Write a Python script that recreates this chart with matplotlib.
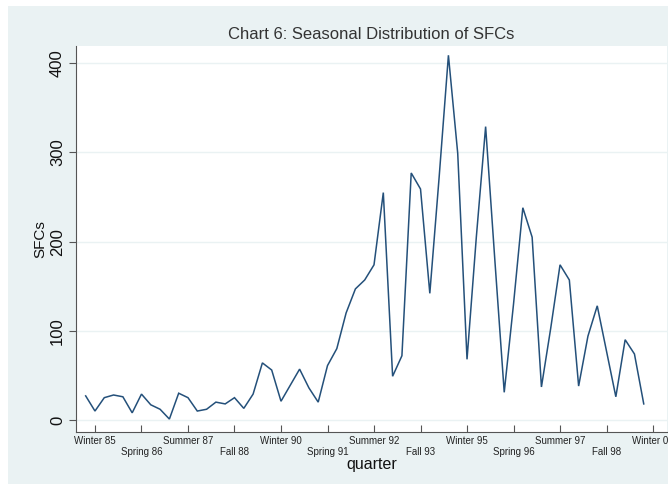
import matplotlib
matplotlib.use("Agg")
import matplotlib.pyplot as plt
from matplotlib.patches import Rectangle

plt.rcParams['font.family'] = ['Liberation Sans', 'DejaVu Sans']

# quarterly categories: Fall 84 .. Fall 99
seasons = ["Winter", "Spring", "Summer", "Fall"]
quarters = ["Fall 84"]
for yr in range(85, 100):
    for s in seasons:
        quarters.append(f"{s} {yr:02d}")
quarters = quarters[:61]

sfcs = [27, 10, 25, 28, 26, 8, 29, 17, 12, 1,
        30, 25, 10, 12, 20, 18, 25, 13, 29, 64,
        56, 21, 39, 57, 36, 20, 61, 80, 120, 147,
        157, 174, 255, 49, 72, 277, 259, 142, 272, 409,
        299, 68, 205, 329, 178, 31, 130, 238, 205, 37,
        103, 174, 157, 38, 94, 128, 77, 26, 90, 74,
        18]

tick_labels = ["Winter 85", "Spring 86", "Summer 87", "Fall 88", "Winter 90",
               "Spring 91", "Summer 92", "Fall 93", "Winter 95", "Spring 96",
               "Summer 97", "Fall 98", "Winter 00"]
y_ticks = [0, 100, 200, 300, 400]

all_q = quarters + ["Winter 00"]
x = list(range(len(sfcs)))
tick_pos = [all_q.index(t) for t in tick_labels]

W, H = 668, 490
fig = plt.figure(figsize=(W / 100, H / 100), dpi=100, facecolor="white")
bg = "#EAF2F3"
rect = Rectangle((8 / W, 6 / H), 1, 478 / H, transform=fig.transFigure,
                 facecolor=bg, edgecolor="none", zorder=-10)
fig.add_artist(rect)

ax = fig.add_axes([76 / W, 58 / H, (667 - 76) / W, (432 - 46) / H])
ax.set_zorder(5)
ax.set_facecolor("white")
ax.plot(x, sfcs, color="#24507a", lw=1.1, solid_joinstyle="miter")

ax.set_xlim(-1.04, 62.5)
ax.set_ylim(-13.5, 419.4)

for s in ["top", "right"]:
    ax.spines[s].set_visible(False)
for s in ["left", "bottom"]:
    ax.spines[s].set_color("#555555")
    ax.spines[s].set_linewidth(0.8)

ax.set_yticks(y_ticks)
ax.set_yticklabels([str(v) for v in y_ticks], rotation=90, va="center", fontsize=12, color="#111111")
ax.tick_params(axis="y", direction="out", length=5, width=0.8, color="#555555", pad=3)
ax.yaxis.grid(True, color=bg, lw=1.0)
ax.set_axisbelow(True)

labs = [t if i % 2 == 0 else "\n" + t for i, t in enumerate(tick_labels)]
ax.set_xticks(tick_pos)
ax.set_xticklabels(labs, fontsize=7, color="#222222", linespacing=1.1)
ax.tick_params(axis="x", direction="in", length=5, width=0.8, color="#555555", pad=3)

ax.set_xlabel("quarter", fontsize=11.5, color="#111111", labelpad=0)
ax.set_ylabel("SFCs", fontsize=11, color="#111111", labelpad=2)
ax.set_title("Chart 6: Seasonal Distribution of SFCs", fontsize=12, color="#333333", pad=5)

fig.savefig("out.png", dpi=100, facecolor=fig.get_facecolor())
